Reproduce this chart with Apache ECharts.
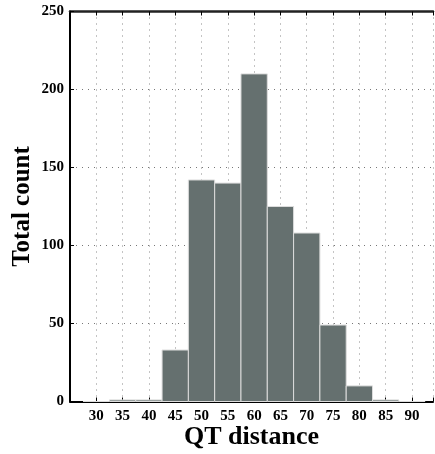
<!DOCTYPE html>
<html>
<head>
<meta charset="utf-8">
<script src="https://cdn.jsdelivr.net/npm/echarts@6/dist/echarts.min.js"></script>
<style>
html,body{margin:0;padding:0;background:#fff;}
#chart{width:435px;height:454px;}
</style>
</head>
<body>
<div id="chart"></div>
<script>
// Data
const binCenters = [30, 35, 40, 45, 50, 55, 60, 65, 70, 75, 80, 85, 90];
const counts =     [0,  1,  1,  33, 142, 140, 210, 125, 108, 49, 10, 1, 0];
const binWidth = 5;
const xTitle = 'QT distance';
const yTitle = 'Total count';

const data = binCenters.map((c, i) => [c, counts[i]]);
const fontFam = '"Liberation Serif", "DejaVu Serif", serif';

const chart = echarts.init(document.getElementById('chart'), null, {renderer: 'canvas'});
chart.setOption({
  animation: false,
  backgroundColor: '#fff',
  grid: {left: 70, right: 2, top: 11.5, bottom: 52.5, containLabel: false, outerBoundsMode: 'none'},
  xAxis: [{
    type: 'value', min: 25, max: 94, interval: 5,
    position: 'bottom',
    name: xTitle, nameLocation: 'middle', nameGap: 23, nameMoveOverlap: false,
    nameTextStyle: {fontFamily: fontFam, fontWeight: 'bold', fontSize: 26, color: '#000'},
    axisLine: {show: true, lineStyle: {color: '#000', width: 2}},
    axisTick: {show: true, inside: true, length: 4, lineStyle: {color: '#000'}},
    axisLabel: {
      fontFamily: fontFam, fontWeight: 'bold', fontSize: 15, color: '#000', margin: 7,
      showMinLabel: true, showMaxLabel: true,
      formatter: v => (v >= 30 && v <= 90 && v % 5 === 0) ? String(v) : ''
    },
    splitLine: {show: true, lineStyle: {color: '#888', type: [1, 5], width: 1}}
  }, {
    type: 'value', min: 25, max: 94, interval: 5,
    position: 'top',
    axisLine: {show: true, lineStyle: {color: '#222', width: 2.5}},
    axisTick: {show: true, inside: true, length: 4, lineStyle: {color: '#000'}},
    axisLabel: {show: false},
    splitLine: {show: false}
  }],
  yAxis: {
    type: 'value', min: 0, max: 250, interval: 50,
    name: yTitle, nameLocation: 'middle', nameGap: 35, nameMoveOverlap: false,
    nameTextStyle: {fontFamily: fontFam, fontWeight: 'bold', fontSize: 25, color: '#000'},
    axisLine: {show: true, lineStyle: {color: '#000', width: 2}},
    axisTick: {show: true, inside: true, length: 4, lineStyle: {color: '#000'}},
    axisLabel: {fontFamily: fontFam, fontWeight: 'bold', fontSize: 15, color: '#000', margin: 6},
    splitLine: {show: true, lineStyle: {color: '#777', type: [1, 5], width: 1}}
  },
  series: [{
    type: 'custom',
    xAxisIndex: 0,
    data: data,
    z: 5,
    renderItem: function (params, api) {
      const x = api.value(0), y = api.value(1);
      const p0 = api.coord([x - binWidth / 2, y]);
      const p1 = api.coord([x + binWidth / 2, 0]);
      return {
        type: 'rect',
        shape: {x: p0[0], y: p0[1], width: p1[0] - p0[0], height: p1[1] - p0[1]},
        style: {fill: '#65706f', stroke: '#dcdcdc', lineWidth: 1}
      };
    }
  }]
});
</script>
</body>
</html>
